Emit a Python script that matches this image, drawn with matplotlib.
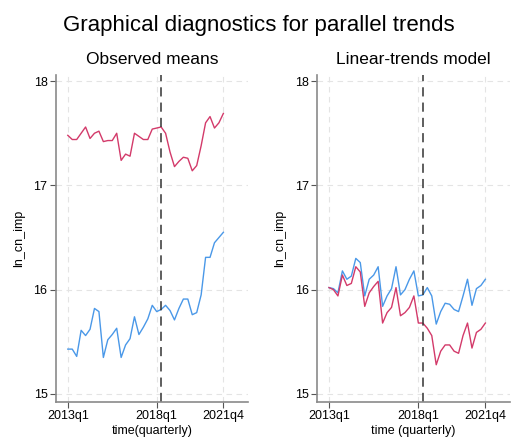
import matplotlib
matplotlib.use('Agg')
import matplotlib.pyplot as plt
import numpy as np

# quarters 2013q1 .. 2021q4
quarters = [f"{y}q{q}" for y in range(2013, 2022) for q in range(1, 5)]
tick_labels = ['2013q1', '2018q1', '2021q4']
treat_start = '2018q2'

# observed means of ln_cn_imp
obs_control = [15.43, 15.43, 15.36, 15.61, 15.56, 15.62, 15.82, 15.79, 15.35, 15.52,
               15.57, 15.63, 15.35, 15.47, 15.53, 15.74, 15.57, 15.64, 15.72, 15.85,
               15.79, 15.81, 15.85, 15.80, 15.71, 15.82, 15.91, 15.91, 15.76, 15.78,
               15.95, 16.31, 16.31, 16.45, 16.50, 16.55]
obs_treated = [17.48, 17.44, 17.44, 17.50, 17.56, 17.45, 17.50, 17.52, 17.42, 17.43,
               17.43, 17.50, 17.24, 17.30, 17.28, 17.50, 17.47, 17.44, 17.44, 17.54,
               17.55, 17.56, 17.50, 17.32, 17.18, 17.23, 17.27, 17.26, 17.14, 17.19,
               17.38, 17.60, 17.66, 17.55, 17.60, 17.69]

# linear-trends model
lin_control = [16.02, 16.01, 15.97, 16.18, 16.10, 16.13, 16.30, 16.26, 15.94, 16.10,
               16.14, 16.22, 15.84, 15.94, 16.01, 16.22, 15.95, 16.00, 16.10, 16.18,
               15.94, 15.95, 16.02, 15.94, 15.67, 15.79, 15.87, 15.86, 15.81, 15.79,
               15.94, 16.10, 15.85, 16.01, 16.04, 16.10]
lin_treated = [16.02, 16.00, 15.94, 16.14, 16.04, 16.06, 16.22, 16.17, 15.84, 15.97,
               16.03, 16.08, 15.68, 15.78, 15.83, 16.02, 15.75, 15.78, 15.83, 15.94,
               15.68, 15.68, 15.63, 15.56, 15.28, 15.41, 15.47, 15.47, 15.41, 15.39,
               15.56, 15.68, 15.44, 15.59, 15.62, 15.68]

yticks = [15, 16, 17, 18]

BLUE = '#4a98e8'
RED = '#d33a6a'

plt.rcParams['font.family'] = ['Liberation Sans', 'DejaVu Sans']


def draw_panel(ax, blue, red, title, xlabel):
    x = np.arange(len(quarters))
    ax.plot(x, blue, color=BLUE, lw=1.0)
    ax.plot(x, red, color=RED, lw=1.0)
    ax.axvline(quarters.index(treat_start), color='#333333', lw=1.1,
               linestyle=(0, (6, 4)))
    ticks = [quarters.index(t) for t in tick_labels]
    ax.set_xticks(ticks)
    ax.set_xticklabels(tick_labels, fontsize=9)
    ax.set_yticks(yticks)
    ax.set_yticklabels([str(v) for v in yticks], fontsize=9)
    ax.set_xlim(-2.7, 40.5)
    ax.set_ylim(14.923, 18.058)
    ax.grid(True, color='#e4e4e4', linestyle=(0, (5, 4)), lw=0.8)
    ax.set_axisbelow(True)
    for s in ['top', 'right']:
        ax.spines[s].set_visible(False)
    for s in ['left', 'bottom']:
        ax.spines[s].set_color('#8a8a8a')
        ax.spines[s].set_linewidth(1.2)
    ax.tick_params(direction='out', length=4, width=0.8, color='#555555', pad=2)
    ax.set_title(title, fontsize=12.5, pad=8)
    ax.set_xlabel(xlabel, fontsize=9, labelpad=2)
    ax.set_ylabel('ln_cn_imp', fontsize=9, labelpad=6)


def main():
    fig = plt.figure(figsize=(5.12, 4.4), dpi=100)
    ax1 = fig.add_axes([0.109, 0.0864, 0.375, 0.743])
    ax2 = fig.add_axes([0.619, 0.0864, 0.377, 0.743])
    draw_panel(ax1, obs_control, obs_treated, 'Observed means', 'time(quarterly)')
    draw_panel(ax2, lin_control, lin_treated, 'Linear-trends model', 'time (quarterly)')
    fig.text(0.505, 0.941, 'Graphical diagnostics for parallel trends',
             fontsize=16, ha='center', va='center')
    fig.savefig('out.png', dpi=100)


if __name__ == '__main__':
    main()
